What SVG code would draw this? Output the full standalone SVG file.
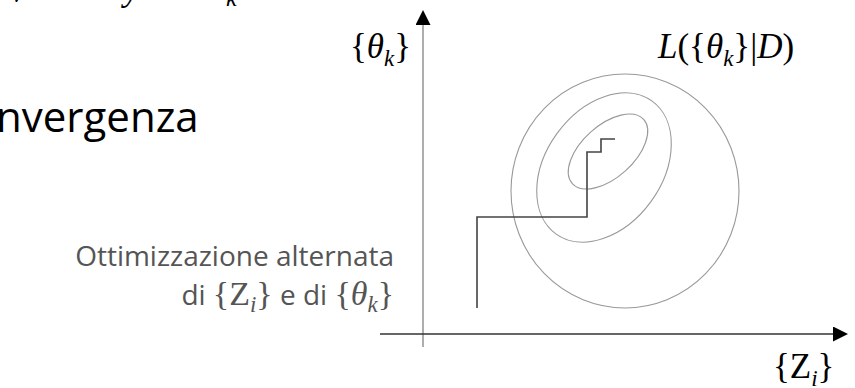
<svg xmlns="http://www.w3.org/2000/svg" width="855" height="388" viewBox="0 0 855 388">
<style>
.title{font-family:"Open Sans","Liberation Sans",sans-serif;font-size:42px;fill:#000}
.note{font-family:"Open Sans","Liberation Sans",sans-serif;font-size:28px;fill:#555}
.m{font-family:"Liberation Serif","Times New Roman",serif;font-size:34px}
.it{font-style:italic}
.lab{font-family:"Liberation Serif","Times New Roman",serif;font-size:35px;fill:#000}
.sub{font-size:23px}
.contour{fill:none;stroke:#999;stroke-width:1.1}
.path{fill:none;stroke:#444;stroke-width:1.6}
</style>
<defs>
<marker id="arr" viewBox="0 0 15 15" refX="0" refY="7.5" markerWidth="15" markerHeight="15" markerUnits="userSpaceOnUse" orient="auto">
<path d="M0,0 L15,7.5 L0,15 z" fill="#000"/>
</marker>
</defs>
<g id="top-fragments" class="lab it">
<text x="10" y="2">v</text>
<text x="124" y="0">y</text>
<text x="226" y="6" font-size="24">k</text>
</g>
<text id="title" class="title" x="-4" y="132">nvergenza</text>
<g id="axes">
<line x1="423" y1="347" x2="423" y2="25" stroke="#777" stroke-width="1.2" marker-end="url(#arr)"/>
<line x1="380" y1="334" x2="833" y2="334" stroke="#333" stroke-width="1.3" marker-end="url(#arr)"/>
</g>
<g id="contours">
<ellipse class="contour" cx="625" cy="191" rx="114" ry="117"/>
<ellipse class="contour" cx="604" cy="167.5" rx="82" ry="58" transform="rotate(-54 604 167.5)"/>
<ellipse class="contour" cx="608" cy="151.5" rx="48" ry="26" transform="rotate(-42 608 151.5)"/>
</g>
<path id="optimization-path" class="path" d="M477,308 V217 H587 V152 H601 V139 H615"/>
<g id="labels">
<text class="lab" x="350" y="58">{<tspan class="it">θ</tspan><tspan class="it sub" dy="8">k</tspan><tspan dy="-8">}</tspan></text>
<text class="lab" x="658" y="58"><tspan class="it">L</tspan>({<tspan class="it">θ</tspan><tspan class="it sub" dy="8">k</tspan><tspan dy="-8">}|</tspan><tspan class="it">D</tspan>)</text>
<text class="lab" x="773" y="378">{Z<tspan class="it sub" dy="8">i</tspan><tspan dy="-8">}</tspan></text>
</g>
<g id="note">
<text class="note" x="394" y="266" text-anchor="end">Ottimizzazione alternata</text>
<text class="note" x="394" y="305" text-anchor="end">di <tspan class="m">{Z</tspan><tspan class="m it sub" dy="7">i</tspan><tspan class="m" dy="-7">}</tspan> e di <tspan class="m">{</tspan><tspan class="m it">θ</tspan><tspan class="m it sub" dy="7">k</tspan><tspan class="m" dy="-7">}</tspan></text>
</g>
</svg>
